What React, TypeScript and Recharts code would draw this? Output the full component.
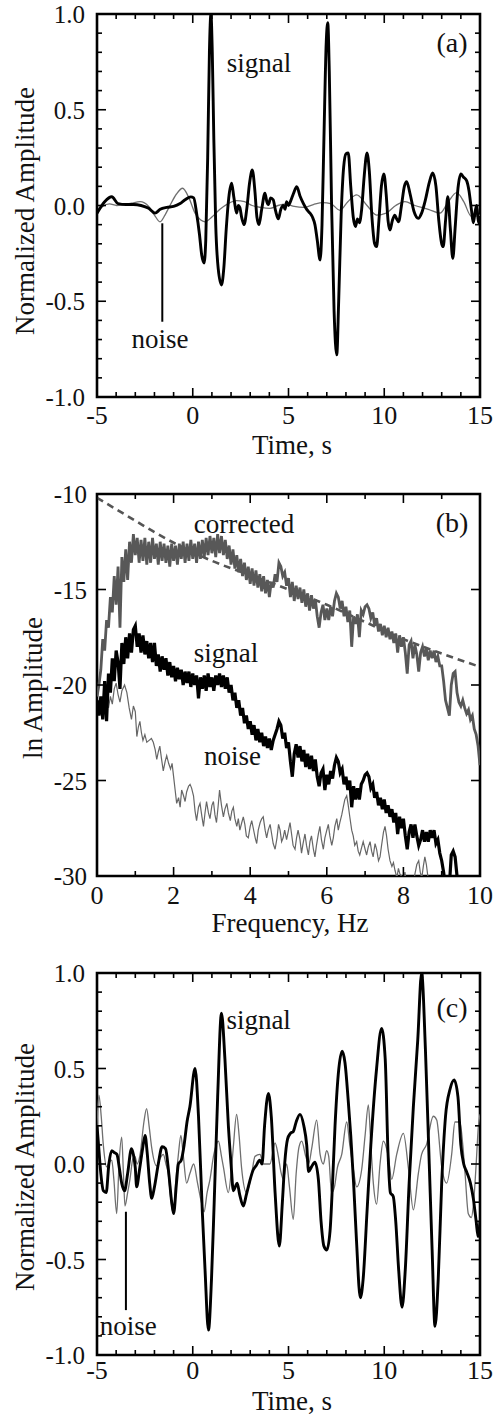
import React from 'react';
import { LineChart, Line, XAxis, YAxis, ReferenceArea, ReferenceLine, ReferenceDot } from 'recharts';

const FONT = "'Liberation Serif', 'Times New Roman', 'DejaVu Serif', serif";

// ---------- shared tick lists ----------
const timeTicks = [-5, -4, -3, -2, -1, 0, 1, 2, 3, 4, 5, 6, 7, 8, 9, 10, 11, 12, 13, 14, 15];
const timeMajor = [-5, 0, 5, 10, 15];
const ampTicks = [-1, -0.9, -0.8, -0.7, -0.6, -0.5, -0.4, -0.3, -0.2, -0.1, 0, 0.1, 0.2, 0.3, 0.4, 0.5, 0.6, 0.7, 0.8, 0.9, 1];
const ampMajor = [-1, -0.5, 0, 0.5, 1];
const freqTicks = [0, 1, 2, 3, 4, 5, 6, 7, 8, 9, 10];
const freqMajor = [0, 2, 4, 6, 8, 10];
const lnTicks = [-30, -25, -20, -15, -10];

// ---------- panel (a): time series [t (s), normalized amplitude] ----------
const signalA: [number, number][] = [
  [-5, -0.04], [-4.6, 0.02], [-4.23, 0.046], [-3.9, 0.01], [-3.5, 0.005], [-3.1, 0.005], [-2.7, 0.0],
  [-2.3, -0.015], [-1.97, -0.04], [-1.7, -0.02], [-1.36, -0.01], [-1.0, -0.005], [-0.66, 0.01],
  [-0.4, 0.03], [-0.1, 0.045], [0.05, 0.04], [0.2, -0.04], [0.35, -0.15], [0.47, -0.26], [0.59, -0.3],
  [0.68, -0.18], [0.78, 0.25], [0.87, 0.8], [0.95, 1.0], [1.02, 0.8], [1.1, 0.35], [1.2, -0.1],
  [1.33, -0.33], [1.5, -0.415], [1.62, -0.33], [1.75, -0.12], [1.88, 0.04], [2.03, 0.116], [2.15, 0.04],
  [2.29, -0.04], [2.38, 0.0], [2.46, -0.01], [2.55, -0.06], [2.68, -0.1], [2.83, -0.01], [2.97, 0.12],
  [3.11, 0.185], [3.25, 0.07], [3.35, -0.06], [3.46, -0.1], [3.6, -0.02], [3.77, 0.064], [3.87, 0.02],
  [3.95, 0.005], [4.07, 0.04], [4.2, 0.03], [4.33, -0.03], [4.47, -0.07], [4.6, -0.02], [4.73, 0.0],
  [4.82, -0.02], [4.9, 0.02], [5.0, 0.0], [5.1, 0.02], [5.25, 0.06], [5.43, 0.098], [5.6, 0.05],
  [5.78, 0.01], [5.95, -0.02], [6.12, -0.04], [6.25, -0.06], [6.38, -0.1], [6.5, -0.18], [6.65, -0.285],
  [6.75, -0.1], [6.85, 0.35], [6.97, 0.85], [7.05, 0.955], [7.13, 0.7], [7.25, 0.0], [7.38, -0.55],
  [7.52, -0.78], [7.62, -0.5], [7.75, -0.05], [7.88, 0.2], [8.0, 0.27], [8.12, 0.275], [8.25, 0.1],
  [8.38, -0.06], [8.5, -0.11], [8.6, -0.07], [8.7, -0.09], [8.82, -0.02], [8.95, 0.15], [9.1, 0.275],
  [9.22, 0.18], [9.35, -0.05], [9.5, -0.2], [9.6, -0.215], [9.72, -0.08], [9.85, 0.1], [9.98, 0.165],
  [10.1, 0.06], [10.2, -0.08], [10.3, -0.128], [10.42, -0.08], [10.55, -0.05], [10.65, -0.07],
  [10.75, -0.085], [10.9, 0.0], [11.05, 0.1], [11.17, 0.124], [11.35, 0.06], [11.55, -0.03],
  [11.78, -0.067], [11.95, -0.04], [12.15, 0.03], [12.35, 0.12], [12.53, 0.17], [12.7, 0.1],
  [12.85, -0.08], [13.0, -0.2], [13.08, -0.215], [13.2, -0.08], [13.32, 0.046], [13.45, -0.12],
  [13.58, -0.276], [13.7, -0.12], [13.85, 0.09], [14.0, 0.165], [14.12, 0.15], [14.3, 0.13],
  [14.42, 0.08], [14.55, -0.02], [14.65, -0.09], [14.75, -0.03], [14.83, 0.0], [14.92, -0.09], [15, -0.06],
];

const noiseA: [number, number][] = [
  [-5, -0.035], [-4.7, -0.005], [-4.35, 0.008], [-3.97, 0.0], [-3.6, 0.005], [-3.2, 0.012], [-2.75, 0.02],
  [-2.3, -0.005], [-2.0, -0.05], [-1.71, -0.085], [-1.45, -0.05], [-1.19, 0.0], [-0.85, 0.06], [-0.53, 0.09],
  [-0.2, 0.04], [0.12, -0.04], [0.4, -0.075], [0.64, -0.085], [1.0, -0.06], [1.42, -0.02], [1.85, 0.01],
  [2.29, 0.025], [2.7, 0.02], [3.1, 0.0], [3.55, -0.01], [4.03, -0.015], [4.45, 0.0], [4.85, 0.007],
  [5.3, -0.005], [5.8, -0.01], [6.3, 0.005], [6.8, 0.015], [7.2, 0.01], [7.69, -0.025], [8.1, 0.02],
  [8.56, 0.055], [9.1, 0.0], [9.6, -0.05], [10.1, -0.04], [10.6, 0.0], [11.08, 0.02], [11.6, 0.0],
  [12.3, -0.02], [12.91, -0.04], [13.35, 0.02], [13.78, 0.067], [14.15, 0.02], [14.56, -0.058], [15, -0.05],
];

// ---------- panel (b): ln amplitude spectra, sampled every 0.05 Hz from 0 Hz ----------
const freqStep = 0.05;
const correctedAmp = [
  -20.6, -20.0, -19.2, -17.6, -18.2, -16.6, -17.0, -15.4, -16.2, -14.3,
  -15.8, -13.8, -17.0, -13.3, -14.6, -12.9, -14.5, -12.5, -13.6, -12.1,
  -13.2, -12.3, -13.6, -12.4, -13.5, -12.3, -13.7, -12.5, -13.6, -12.3,
  -13.4, -12.6, -13.7, -12.5, -13.5, -12.6, -13.6, -12.7, -13.8, -12.6,
  -13.5, -12.7, -13.7, -12.6, -13.4, -12.5, -13.6, -12.6, -13.5, -12.4,
  -13.4, -12.6, -13.6, -12.5, -13.4, -12.4, -13.3, -12.3, -13.2, -12.2,
  -13.1, -12.3, -13.3, -12.1, -13.1, -12.2, -13.2, -12.4, -13.4, -12.7,
  -13.7, -12.9, -13.9, -13.2, -14.1, -13.4, -14.3, -13.6, -14.5, -13.8,
  -14.7, -13.9, -14.8, -14.0, -14.9, -14.2, -15.1, -14.3, -15.2, -14.5,
  -15.4, -14.6, -14.9, -14.2, -14.6, -13.6, -13.8, -14.3, -14.1, -14.8,
  -14.4, -15.4, -14.6, -15.6, -14.8, -15.5, -14.9, -15.7, -15.0, -15.9,
  -15.2, -16.1, -15.3, -16.0, -15.5, -16.4, -17.0, -16.2, -15.8, -16.6,
  -16.0, -16.6, -15.9, -16.4, -15.6, -15.2, -15.4, -16.0, -15.6, -16.4,
  -15.9, -16.7, -16.1, -18.0, -16.4, -16.8, -16.3, -17.5, -16.1, -16.3,
  -15.9, -15.8, -16.0, -16.5, -16.2, -16.9, -16.5, -17.2, -16.8, -17.4,
  -16.9, -17.5, -17.0, -17.6, -17.2, -17.8, -17.3, -18.3, -17.4, -18.0,
  -17.5, -18.3, -19.4, -17.9, -17.7, -18.6, -17.9, -18.4, -19.3, -18.3,
  -18.0, -18.5, -18.1, -18.7, -18.2, -18.6, -18.2, -18.8, -18.5, -19.0,
  -19.0, -19.8, -20.8, -21.2, -21.6, -20.0, -19.4, -19.3, -20.4, -20.9,
  -21.1, -20.8, -21.2, -21.5, -21.3, -21.8, -21.6, -22.3, -22.6, -23.2,
  -24.2,
];

const signalAmp = [
  -20.8, -21.6, -20.6, -21.8, -19.8, -21.9, -19.4, -20.4, -18.6, -19.8,
  -18.2, -18.8, -20.2, -17.8, -18.9, -17.5, -18.6, -17.3, -18.3, -17.1,
  -16.9, -18.0, -17.3, -18.3, -17.4, -18.4, -17.7, -18.6, -17.8, -18.8,
  -17.8, -19.0, -18.4, -19.3, -18.5, -19.2, -18.6, -19.5, -18.8, -19.6,
  -19.0, -19.8, -19.1, -19.7, -19.2, -20.0, -19.3, -19.9, -19.3, -20.1,
  -19.4, -20.0, -19.5, -20.7, -19.6, -20.2, -19.5, -20.3, -19.4, -20.1,
  -19.6, -20.3, -19.5, -20.0, -19.4, -20.1, -19.5, -20.2, -19.6, -20.4,
  -20.0, -20.8, -20.4, -21.2, -20.8, -21.6, -21.2, -22.0, -21.6, -22.3,
  -21.9, -22.6, -22.1, -22.9, -22.3, -23.0, -22.5, -23.2, -22.7, -23.3,
  -22.8, -23.4, -22.9, -22.6, -22.3, -21.9, -22.1, -22.8, -22.5, -23.3,
  -23.0, -24.0, -24.8, -23.6, -23.1, -23.8, -23.2, -24.0, -23.4, -24.3,
  -23.6, -24.4, -23.7, -24.5, -23.9, -24.8, -25.3, -24.6, -24.4, -25.5,
  -24.7, -25.2, -24.5, -24.9, -24.2, -23.8, -24.0, -24.6, -24.4, -25.2,
  -24.8, -25.5, -25.0, -26.4, -25.3, -26.0, -25.4, -26.0, -25.2, -25.0,
  -24.7, -24.6, -24.8, -25.4, -25.2, -25.9, -25.6, -26.3, -25.9, -26.5,
  -26.0, -26.7, -26.3, -26.9, -26.5, -27.2, -26.7, -27.8, -26.9, -27.5,
  -27.0, -27.9, -28.6, -27.7, -27.3, -28.0, -27.3, -27.9, -28.4, -28.1,
  -27.6, -28.2, -27.7, -28.2, -27.6, -28.0, -27.6, -28.3, -28.1, -28.8,
  -29.2, -29.8, -30.6, -30.3, -30.5, -28.9, -28.7, -29.0, -30.0, -30.6,
  -31.0,
];

const noiseB: [number, number][] = [
  [0.3, -21.2], [0.35, -20.6], [0.4, -21.0], [0.45, -20.2], [0.5, -19.9], [0.55, -20.5], [0.6, -20.9],
  [0.65, -20.3], [0.72, -20.0], [0.78, -20.4], [0.84, -21.2], [0.9, -21.8], [0.95, -21.1], [1.0, -21.4],
  [1.04, -22.7], [1.08, -22.2], [1.12, -21.9], [1.16, -22.5], [1.2, -22.9], [1.25, -22.6], [1.3, -23.0],
  [1.36, -22.9], [1.42, -22.8], [1.47, -23.0], [1.52, -23.4], [1.56, -23.9], [1.6, -23.5], [1.64, -23.2],
  [1.68, -23.8], [1.73, -24.5], [1.78, -24.0], [1.82, -23.7], [1.87, -24.1], [1.92, -24.4], [1.96, -24.1],
  [2.0, -24.8], [2.04, -25.5], [2.08, -26.2], [2.13, -25.9], [2.17, -26.4], [2.21, -25.5], [2.26, -25.8],
  [2.3, -26.1], [2.34, -25.6], [2.39, -25.3], [2.43, -25.2], [2.47, -25.4], [2.52, -25.8], [2.56, -26.6],
  [2.6, -27.1], [2.65, -26.4], [2.69, -26.2], [2.74, -26.9], [2.78, -27.4], [2.82, -26.7], [2.86, -26.1],
  [2.91, -26.7], [2.95, -27.0], [3.0, -26.3], [3.04, -26.1], [3.08, -26.8], [3.12, -27.2], [3.16, -26.4],
  [3.2, -25.5], [3.25, -26.3], [3.3, -26.9], [3.34, -26.5], [3.39, -26.2], [3.43, -26.7], [3.48, -27.1],
  [3.52, -26.6], [3.56, -26.4], [3.6, -27.0], [3.65, -27.4], [3.69, -27.0], [3.73, -27.6], [3.78, -27.2],
  [3.82, -26.9], [3.86, -27.3], [3.9, -27.9], [3.95, -28.0], [4.0, -27.4], [4.04, -27.1], [4.08, -27.5],
  [4.13, -28.0], [4.17, -28.3], [4.21, -27.6], [4.26, -27.2], [4.3, -27.0], [4.34, -26.9], [4.39, -27.6],
  [4.43, -28.0], [4.47, -27.6], [4.52, -27.3], [4.56, -27.8], [4.6, -28.3], [4.65, -28.6], [4.7, -28.0],
  [4.74, -27.3], [4.78, -27.6], [4.82, -28.2], [4.86, -28.0], [4.9, -27.6], [4.95, -28.1], [5.0, -27.6],
  [5.04, -27.2], [5.08, -27.8], [5.12, -28.4], [5.17, -28.6], [5.21, -28.0], [5.25, -27.6], [5.3, -28.1],
  [5.34, -28.8], [5.38, -28.3], [5.43, -27.8], [5.47, -28.4], [5.52, -28.9], [5.56, -28.2], [5.6, -27.9],
  [5.65, -28.6], [5.69, -29.0], [5.73, -28.4], [5.78, -27.8], [5.82, -27.4], [5.86, -28.1], [5.91, -28.6],
  [5.95, -28.0], [6.0, -27.6], [6.04, -27.3], [6.08, -27.9], [6.13, -28.4], [6.17, -28.0], [6.21, -27.4],
  [6.26, -27.0], [6.3, -27.6], [6.34, -27.2], [6.39, -26.8], [6.43, -26.4], [6.47, -26.0], [6.52, -25.8],
  [6.56, -26.3], [6.6, -26.9], [6.65, -27.6], [6.69, -27.9], [6.73, -28.4], [6.78, -28.2], [6.82, -28.7],
  [6.86, -28.9], [6.91, -28.5], [6.95, -28.2], [7.0, -28.6], [7.04, -28.9], [7.08, -28.5], [7.13, -28.2],
  [7.17, -28.7], [7.21, -29.0], [7.26, -28.3], [7.3, -28.6], [7.35, -29.2], [7.39, -29.0], [7.43, -28.4],
  [7.48, -27.7], [7.52, -27.4], [7.56, -27.9], [7.6, -28.6], [7.65, -29.2], [7.7, -29.5], [7.74, -29.3],
  [7.78, -29.7], [7.83, -30.1], [7.87, -29.6], [7.91, -29.9], [7.95, -30.0], [8.0, -30.3], [8.04, -29.8],
  [8.08, -30.4], [8.13, -30.6], [8.17, -30.2], [8.22, -30.5], [8.26, -30.5], [8.3, -29.9], [8.35, -29.4],
  [8.4, -29.2], [8.44, -29.8], [8.48, -30.1], [8.52, -29.5], [8.56, -29.0], [8.6, -29.4], [8.65, -30.2],
  [8.7, -30.6], [8.78, -30.6],
];

const fitB: [number, number][] = [
  [0, -10.2], [0.5, -10.8], [1, -11.4], [1.5, -12.0], [2, -12.55], [2.5, -13.05], [3, -13.5], [4, -14.25],
  [5, -15.0], [6, -15.8], [7, -16.7], [8, -17.6], [9, -18.35], [10, -19.05],
];

// ---------- panel (c): time series ----------
const signalC: [number, number][] = [
  [-5, 0.2], [-4.92, 0.1], [-4.8, -0.05], [-4.67, -0.14], [-4.52, -0.15], [-4.38, 0.0], [-4.23, 0.07],
  [-4.1, 0.06], [-3.96, 0.05], [-3.82, -0.03], [-3.71, -0.1], [-3.56, -0.14], [-3.4, -0.05], [-3.2, 0.08],
  [-3.1, 0.05], [-3.0, -0.02], [-2.93, -0.12], [-2.78, -0.03], [-2.62, 0.08], [-2.49, 0.15], [-2.38, 0.06],
  [-2.25, -0.1], [-2.14, -0.18], [-2.0, -0.12], [-1.8, 0.0], [-1.6, 0.09], [-1.42, 0.08], [-1.25, -0.05],
  [-1.1, -0.2], [-1.0, -0.26], [-0.85, -0.1], [-0.75, 0.0], [-0.6, 0.02], [-0.45, 0.1], [-0.3, 0.22],
  [-0.15, 0.3], [0.12, 0.5], [0.3, 0.25], [0.5, -0.25], [0.64, -0.55], [0.82, -0.87], [0.98, -0.6],
  [1.12, -0.2], [1.3, 0.35], [1.5, 0.79], [1.68, 0.55], [1.86, 0.2], [2.0, 0.0], [2.12, -0.14],
  [2.22, -0.12], [2.32, -0.1], [2.45, -0.16], [2.64, -0.22], [2.8, -0.16], [2.95, -0.1], [3.16, -0.03],
  [3.3, -0.01], [3.5, 0.02], [3.62, 0.0], [3.75, 0.2], [3.95, 0.37], [4.1, 0.25], [4.3, -0.15],
  [4.52, -0.43], [4.68, -0.2], [4.8, 0.0], [4.95, 0.13], [5.1, 0.16], [5.25, 0.17], [5.4, 0.22],
  [5.6, 0.26], [5.8, 0.2], [5.95, 0.1], [6.05, -0.04], [6.2, -0.015], [6.38, 0.01], [6.56, -0.08],
  [6.7, -0.3], [6.85, -0.43], [7.0, -0.45], [7.17, -0.35], [7.3, -0.1], [7.43, 0.2], [7.6, 0.47],
  [7.8, 0.59], [7.95, 0.53], [8.12, 0.33], [8.25, 0.15], [8.4, -0.1], [8.55, -0.4], [8.75, -0.7],
  [8.9, -0.6], [9.1, -0.25], [9.3, 0.1], [9.6, 0.5], [9.86, 0.71], [10.05, 0.55], [10.2, 0.05],
  [10.32, -0.15], [10.47, -0.17], [10.6, -0.3], [10.75, -0.55], [10.93, -0.75], [11.1, -0.55],
  [11.3, -0.1], [11.52, 0.3], [11.75, 0.65], [11.95, 1.0], [12.15, 0.6], [12.35, 0.0], [12.5, -0.45],
  [12.65, -0.85], [12.82, -0.6], [13.0, -0.1], [13.2, 0.25], [13.43, 0.39], [13.65, 0.44], [13.85, 0.35],
  [14.0, 0.1], [14.15, 0.0], [14.3, -0.04], [14.5, -0.1], [14.65, -0.18], [14.8, -0.3], [14.9, -0.38], [15, -0.3],
];

const noiseC: [number, number][] = [
  [-5, 0.2], [-4.9, 0.36], [-4.78, 0.25], [-4.67, 0.1], [-4.5, -0.015], [-4.35, 0.01], [-4.23, 0.02],
  [-4.12, -0.08], [-3.97, -0.26], [-3.85, 0.0], [-3.71, 0.14], [-3.62, -0.05], [-3.54, -0.22], [-3.4, -0.15],
  [-3.28, -0.08], [-3.12, 0.03], [-3.02, 0.04], [-2.9, 0.0], [-2.75, 0.05], [-2.55, 0.22], [-2.41, 0.29],
  [-2.28, 0.2], [-2.15, 0.09], [-1.88, -0.01], [-1.7, 0.03], [-1.54, 0.05], [-1.4, 0.0], [-1.28, -0.05],
  [-1.15, -0.18], [-1.01, -0.26], [-0.88, -0.08], [-0.75, 0.05], [-0.62, 0.15], [-0.5, 0.05], [-0.32, -0.1],
  [-0.15, -0.05], [0.05, 0.0], [0.25, -0.1], [0.45, -0.2], [0.59, -0.25], [0.75, -0.15], [0.9, -0.08],
  [1.1, 0.05], [1.34, 0.12], [1.5, 0.04], [1.6, -0.015], [1.86, -0.15], [2.0, -0.05], [2.12, 0.09],
  [2.29, 0.26], [2.42, 0.15], [2.55, -0.02], [2.81, -0.15], [3.08, -0.05], [3.25, 0.04], [3.51, 0.05],
  [3.69, 0.0], [4.03, 0.0], [4.3, 0.11], [4.47, 0.04], [4.6, -0.04], [4.73, -0.08], [4.9, 0.0],
  [5.05, -0.12], [5.25, -0.29], [5.4, -0.05], [5.55, 0.09], [5.69, 0.12], [5.9, 0.04], [6.05, 0.0],
  [6.21, 0.08], [6.47, 0.23], [6.65, 0.05], [6.82, 0.0], [6.99, 0.07], [7.1, 0.04], [7.25, -0.15],
  [7.4, -0.12], [7.55, -0.02], [7.78, 0.05], [8.04, 0.22], [8.2, 0.1], [8.39, -0.03], [8.56, -0.12],
  [8.82, -0.03], [9.0, 0.15], [9.17, 0.31], [9.3, 0.1], [9.43, -0.1], [9.6, -0.21], [9.78, 0.0],
  [9.95, 0.12], [10.21, 0.04], [10.39, -0.08], [10.65, 0.05], [11.0, 0.16], [11.26, -0.02], [11.52, -0.24],
  [11.78, -0.05], [11.95, 0.05], [12.2, 0.1], [12.56, 0.25], [12.74, 0.23], [13.0, -0.015], [13.26, -0.1],
  [13.52, 0.05], [13.69, 0.22], [13.95, 0.22], [14.1, 0.1], [14.22, -0.05], [14.39, -0.26], [14.55, -0.28],
  [14.65, -0.22], [14.8, 0.0], [14.91, 0.19], [15, 0.26],
];

// ---------- helpers ----------
const pts = (arr: [number, number][]) => arr.map(([x, y]) => ({ x, y }));
const spec = (arr: number[]) => arr.map((y, i) => ({ x: Math.round(i * freqStep * 100) / 100, y }));
const isIn = (v: number, list: number[]) => list.some((m) => Math.abs(m - v) < 1e-6);

const PLOT_W = 383;
const textStyle: React.CSSProperties = { fontFamily: FONT };

function makeXTick(plotH: number, majors: number[], dy: number, fmt: (v: number) => string) {
  return (props: any) => {
    const { x, y, payload } = props;
    const v = payload.value;
    const major = isIn(v, majors);
    const len = major ? 9 : 5;
    return (
      <g>
        <line x1={x} x2={x} y1={y} y2={y - len} stroke="#000" strokeWidth={1.6} />
        <line x1={x} x2={x} y1={y - plotH} y2={y - plotH + len} stroke="#000" strokeWidth={1.6} />
        {major ? (
          <text x={x} y={y + dy} textAnchor="middle" style={textStyle} fontSize={26} fill="#111">
            {fmt(v)}
          </text>
        ) : null}
      </g>
    );
  };
}

function makeYTick(majors: number[], gap: number, fmt: (v: number) => string) {
  return (props: any) => {
    const { x, y, payload } = props;
    const v = payload.value;
    const major = isIn(v, majors);
    const len = major ? 9 : 5;
    return (
      <g>
        <line x1={x} x2={x + len} y1={y} y2={y} stroke="#000" strokeWidth={1.6} />
        <line x1={x + PLOT_W} x2={x + PLOT_W - len} y1={y} y2={y} stroke="#000" strokeWidth={1.6} />
        {major ? (
          <text x={x - gap} y={y + 9} textAnchor="end" style={textStyle} fontSize={25} fill="#111">
            {fmt(v)}
          </text>
        ) : null}
      </g>
    );
  };
}

const xTitle = (text: string, cx: number, dy: number) => ({
  value: text,
  content: (p: any) => {
    const vb = p.viewBox || {};
    return (
      <text x={cx} y={(vb.y ?? 0) + dy} textAnchor="middle" style={textStyle} fontSize={27} fill="#111">
        {text}
      </text>
    );
  },
});

const yTitle = (text: string, bx: number, cy: number) => ({
  value: text,
  content: () => (
    <text
      x={bx}
      y={cy}
      transform={`rotate(-90, ${bx}, ${cy})`}
      textAnchor="middle"
      style={textStyle}
      fontSize={27}
      fill="#111"
    >
      {text}
    </text>
  ),
});

const note = (text: string, size = 27) => (p: any) => (
  <text x={p.cx} y={p.cy} textAnchor="middle" style={textStyle} fontSize={size} fill="#111">
    {text}
  </text>
);

const fmt1 = (v: number) => v.toFixed(1);
const fmt0 = (v: number) => String(v);

function TimePanel(props: {
  top: number;
  height: number;
  marginTop: number;
  axisH: number;
  labelDy: number;
  titleDy: number;
  yTitleCy: number;
  signal: [number, number][];
  noise: [number, number][];
  tag: string;
  signalAt: [number, number];
  tagAt: [number, number];
  noiseAt: [number, number];
  pointer: [number, number, number];
}) {
  const plotH = props.height - props.marginTop - props.axisH;
  return (
    <div style={{ position: 'absolute', left: 0, top: props.top }}>
      <LineChart width={499} height={props.height} margin={{ top: props.marginTop, right: 19, bottom: 0, left: 0 }}>
        <XAxis
          type="number"
          dataKey="x"
          domain={[-5, 15]}
          ticks={timeTicks}
          interval={0}
          allowDataOverflow
          axisLine={false}
          tickLine={false}
          tickSize={0}
          tickMargin={0}
          height={props.axisH}
          tick={makeXTick(plotH, timeMajor, props.labelDy, fmt0)}
          label={xTitle('Time, s', 292, props.titleDy)}
        />
        <YAxis
          type="number"
          domain={[-1, 1]}
          ticks={ampTicks}
          interval={0}
          allowDataOverflow
          axisLine={false}
          tickLine={false}
          tickSize={0}
          tickMargin={0}
          width={97}
          tick={makeYTick(ampMajor, 12, fmt1)}
          label={yTitle('Normalized Amplitude', 34, props.yTitleCy)}
        />
        <Line data={pts(props.noise)} dataKey="y" type="monotone" stroke="#6f6f6f" strokeWidth={1.3} dot={false} isAnimationActive={false} />
        <Line data={pts(props.signal)} dataKey="y" type="monotone" stroke="#000" strokeWidth={2.9} dot={false} isAnimationActive={false} />
        <ReferenceLine
          segment={[{ x: props.pointer[0], y: props.pointer[1] }, { x: props.pointer[0], y: props.pointer[2] }]}
          stroke="#000"
          strokeWidth={2}
          ifOverflow="visible"
        />
        <ReferenceDot x={props.signalAt[0]} y={props.signalAt[1]} r={0} ifOverflow="visible" shape={note('signal')} />
        <ReferenceDot x={props.noiseAt[0]} y={props.noiseAt[1]} r={0} ifOverflow="visible" shape={note('noise')} />
        <ReferenceDot x={props.tagAt[0]} y={props.tagAt[1]} r={0} ifOverflow="visible" shape={note(props.tag, 28)} />
        <ReferenceArea x1={-5} x2={15} y1={-1} y2={1} fill="none" fillOpacity={0} stroke="#000" strokeWidth={2.6} ifOverflow="visible" />
      </LineChart>
    </div>
  );
}

function SpectrumPanel() {
  const height = 470;
  const marginTop = 24;
  const axisH = 64;
  const plotH = height - marginTop - axisH;
  return (
    <div style={{ position: 'absolute', left: 0, top: 470 }}>
      <LineChart width={499} height={height} margin={{ top: marginTop, right: 19, bottom: 0, left: 0 }}>
        <XAxis
          type="number"
          dataKey="x"
          domain={[0, 10]}
          ticks={freqTicks}
          interval={0}
          allowDataOverflow
          axisLine={false}
          tickLine={false}
          tickSize={0}
          tickMargin={0}
          height={axisH}
          tick={makeXTick(plotH, freqMajor, 28, fmt0)}
          label={xTitle('Frequency, Hz', 290, 56)}
        />
        <YAxis
          type="number"
          domain={[-30, -10]}
          ticks={lnTicks}
          interval={0}
          allowDataOverflow
          axisLine={false}
          tickLine={false}
          tickSize={0}
          tickMargin={0}
          width={97}
          tick={makeYTick(lnTicks, 10, fmt0)}
          label={yTitle('ln Amplitude', 42, 218)}
        />
        <Line data={pts(fitB)} dataKey="y" type="monotone" stroke="#555" strokeWidth={2.6} strokeDasharray="7 5" dot={false} isAnimationActive={false} />
        <Line data={pts(noiseB)} dataKey="y" type="linear" stroke="#666" strokeWidth={1.2} dot={false} isAnimationActive={false} />
        <Line data={spec(signalAmp)} dataKey="y" type="linear" stroke="#000" strokeWidth={3.2} dot={false} isAnimationActive={false} />
        <Line data={spec(correctedAmp)} dataKey="y" type="linear" stroke="#585858" strokeWidth={2.8} dot={false} isAnimationActive={false} />
        <ReferenceDot x={3.84} y={-12.06} r={0} ifOverflow="visible" shape={note('corrected')} />
        <ReferenceDot x={3.37} y={-18.78} r={0} ifOverflow="visible" shape={note('signal')} />
        <ReferenceDot x={3.54} y={-24.19} r={0} ifOverflow="visible" shape={note('noise')} />
        <ReferenceDot x={9.27} y={-11.97} r={0} ifOverflow="visible" shape={note('(b)', 28)} />
        <ReferenceArea x1={0} x2={10} y1={-30} y2={-10} fill="none" fillOpacity={0} stroke="#000" strokeWidth={2.6} ifOverflow="visible" />
      </LineChart>
    </div>
  );
}

export default function App() {
  return (
    <div style={{ position: 'absolute', left: 0, top: 0, width: 499, height: 1416, background: '#fff', overflow: 'hidden' }}>
      <TimePanel
        top={0}
        height={470}
        marginTop={14}
        axisH={73}
        labelDy={27}
        titleDy={57}
        yTitleCy={211}
        signal={signalA}
        noise={noiseA}
        tag="(a)"
        signalAt={[3.46, 0.697]}
        tagAt={[13.54, 0.8]}
        noiseAt={[-1.71, -0.744]}
        pointer={[-1.59, -0.093, -0.607]}
      />
      <SpectrumPanel />
      <TimePanel
        top={940}
        height={476}
        marginTop={33}
        axisH={61}
        labelDy={24}
        titleDy={55}
        yTitleCy={227}
        signal={signalC}
        noise={noiseC}
        tag="(c)"
        signalAt={[3.44, 0.709]}
        tagAt={[13.54, 0.77]}
        noiseAt={[-3.37, -0.895]}
        pointer={[-3.49, -0.25, -0.765]}
      />
    </div>
  );
}
